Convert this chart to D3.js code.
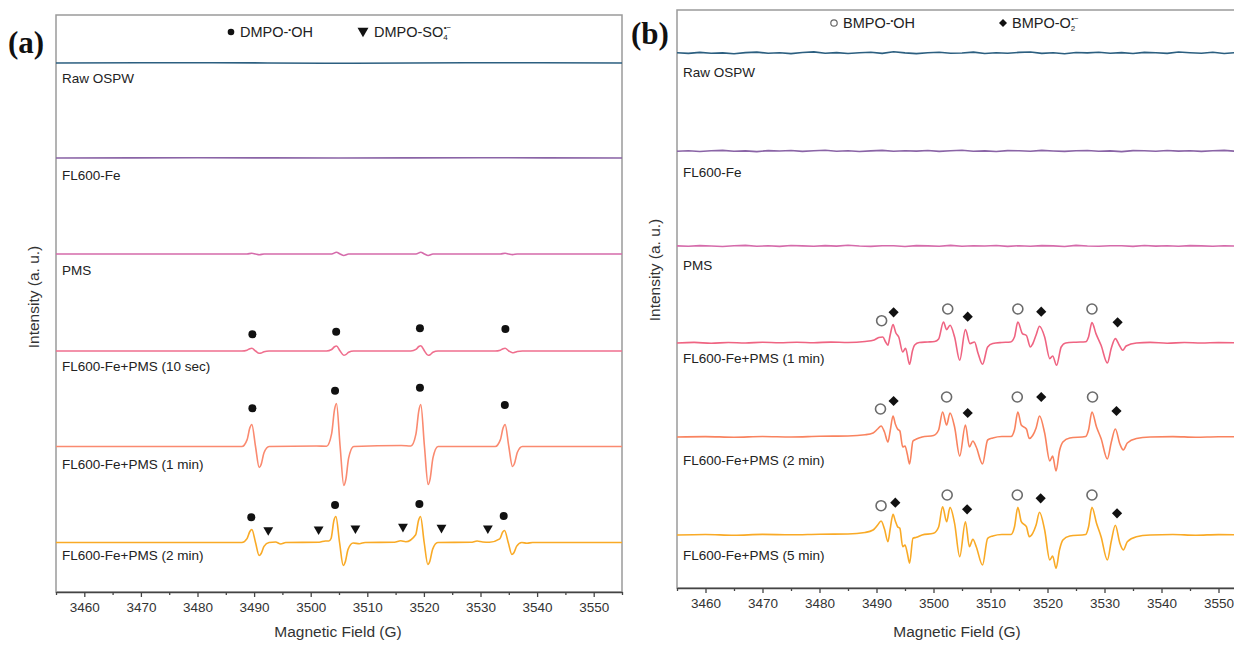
<!DOCTYPE html>
<html>
<head>
<meta charset="utf-8">
<script src="https://cdn.jsdelivr.net/npm/d3@7"></script>
<style>
  body { margin: 0; background: #fff; }
  svg { display: block; font-family: Arial, "Liberation Sans", sans-serif; }
</style>
</head>
<body>
<svg id="chart" width="1234" height="645"></svg>
<script>
// ---------------- data ----------------
const fieldDomain = [3455, 3555]
const fieldTicks = [3460, 3470, 3480, 3490, 3500, 3510, 3520, 3530, 3540, 3550]
const fieldMinor = [3455, 3465, 3475, 3485, 3495, 3505, 3515, 3525, 3535, 3545, 3555]

// panel (a) - DMPO
const labelsA = ['Raw OSPW', 'FL600-Fe', 'PMS', 'FL600-Fe+PMS (10 sec)', 'FL600-Fe+PMS (1 min)', 'FL600-Fe+PMS (2 min)']
const offsetsA = [529, 434, 338, 241, 145.5, 49.5]
const labelLevelsA = [514, 417, 322, 226, 128, 37]

const rawA = [[3455, 0], [3480, 0.3], [3505, -0.2], [3530, 0.3], [3555, 0]]
const fl600A = [[3455, 0], [3480, 0.2], [3505, 0], [3530, 0.2], [3555, 0]]
const pmsA = [
  [3455, 0], [3488.75, 0], [3489.6, 0.8], [3490.25, 0], [3490.9, -0.8], [3491.75, 0],
  [3503.7, 0], [3504.55, 1.8], [3505.2, 0], [3505.85, -1.5], [3506.7, 0],
  [3518.6, 0], [3519.45, 1.8], [3520.1, 0], [3520.75, -1.5], [3521.6, 0],
  [3533.5, 0], [3534.35, 0.8], [3535, 0], [3535.65, -0.6], [3536.5, 0], [3555, 0]
]
const sec10A = [
  [3455, 0], [3487.85, 0], [3488.75, 0.8], [3489.25, 2.3], [3489.6, 2.7], [3490.25, 0], [3490.9, -2.3], [3491.25, -2], [3491.75, -0.7], [3492.65, 0],
  [3502.8, 0], [3503.7, 1.5], [3504.2, 4.2], [3504.55, 5], [3505.2, 0], [3505.85, -4.2], [3506.2, -3.6], [3506.7, -1.3], [3507.6, 0],
  [3517.7, 0], [3518.6, 1.6], [3519.1, 4.5], [3519.45, 5.3], [3520.1, 0], [3520.75, -4.3], [3521.1, -3.7], [3521.6, -1.3], [3522.5, 0],
  [3532.6, 0], [3533.5, 0.8], [3534.0, 2.3], [3534.35, 2.7], [3535.0, 0], [3535.65, -1.7], [3536.0, -1.4], [3536.5, -0.5], [3537.4, 0], [3555, 0]
]
const min1A = [
  [3455, 0], [3487.85, 0], [3488.75, 6.6], [3489.25, 18.7], [3489.6, 22], [3490.25, 0], [3490.9, -21], [3491.25, -17.9], [3491.75, -6.3], [3492.65, 0],
  [3501, 0.5], [3502.8, 0.3], [3503.7, 12.9], [3504.2, 36.6], [3504.55, 43], [3505.2, 0], [3505.85, -39], [3506.2, -33.2], [3506.7, -11.7], [3507.6, 0],
  [3516, 1], [3517.7, 0.5], [3518.6, 12.6], [3519.1, 35.7], [3519.45, 42], [3520.1, 0], [3520.75, -38], [3521.1, -32.3], [3521.6, -11.4], [3522.5, 0],
  [3532.6, 0], [3533.5, 6.6], [3534.0, 18.7], [3534.35, 22], [3535.0, 0], [3535.65, -20], [3536.0, -17], [3536.5, -6], [3537.4, 0], [3555, 0]
]
const min2A = [
  [3455, 0], [3487.85, 0], [3488.75, 3.9], [3489.25, 11], [3489.6, 13], [3490.25, 0], [3490.9, -13], [3491.25, -11], [3491.75, -3.9], [3492.65, 0],
  [3493.8, 0.5], [3494.7, -1.5], [3495.6, 0],
  [3501.5, 0.3], [3502.6, 1.5], [3503.2, 1.5], [3503.6, 4], [3504.1, 22], [3504.45, 26], [3505.1, 0], [3505.75, -23], [3506.1, -19.6], [3506.6, -6.9], [3507.5, -0.5], [3508.6, -1.2], [3509.6, 0],
  [3514.8, 0.3], [3515.9, 1.7], [3516.8, 0.8], [3518.55, 7.8], [3519.05, 22], [3519.4, 26], [3520.05, 0], [3520.7, -22], [3521.05, -18.7], [3521.55, -6.6], [3522.45, 0],
  [3528.3, 0.2], [3529.4, 1.5], [3530.4, 0.5], [3531.6, 0.3], [3533.4, 3.6], [3533.9, 10.2], [3534.25, 12], [3534.9, 0], [3535.55, -12], [3535.9, -10.2], [3536.4, -3.6], [3537.3, 0], [3538.2, -0.8], [3539.2, 0], [3555, 0]
]
const spectraA = [rawA, fl600A, pmsA, sec10A, min1A, min2A]

// DMPO-OH (dots) and DMPO-SO4 (triangles) markers, [field, intensity]
const dotsA = [
  [3489.7, 257.7], [3504.5, 260.3], [3519.3, 263.7], [3534.4, 263],
  [3489.7, 183.7], [3504.3, 201.3], [3519.3, 204.3], [3534.3, 187],
  [3489.5, 74.7], [3504.3, 87], [3519.2, 88], [3534.1, 76]
]
const trianglesA = [[3492.5, 62], [3501.4, 62.7], [3507.9, 63.7], [3516.3, 65.3], [3523.1, 64.3], [3531.3, 63.7]]

// panel (b) - BMPO
const labelsB = ['Raw OSPW', 'FL600-Fe', 'PMS', 'FL600-Fe+PMS (1 min)', 'FL600-Fe+PMS (2 min)', 'FL600-Fe+PMS (5 min)']
const offsetsB = [535, 437, 342, 245, 151, 53]
const labelLevelsB = [516, 416, 323, 230, 128, 33]

// baseline noise, one value every 2 G from 3455 G
const rawB = [0.3, -0.4, 0.6, -0.2, 0.1, -0.8, 0.4, 0.9, -0.3, 0.2, -0.6, 0.5, 1.1, -0.2, 0.4, -0.5, 0.2, 0.8, -0.4, 1.3, 0.1, -0.6, 0.3, 0.7, -0.3, 0.0, 0.9, -0.5, 0.2, -0.2, 0.6, 1.0, -0.4, 0.3, -0.7, 0.5, 0.1, 0.8, -0.3, 0.4, -0.5, 0.6, 0.2, -0.4, 1.0, 0.3, -0.2, 0.7, -0.5, 0.4, 0.1]
const fl600B = [-0.2, 0.3, -0.5, 0.2, 0.6, -0.3, 0.1, -0.6, 0.4, 0.0, 0.5, -0.4, 0.2, 0.7, -0.2, 0.3, -0.5, 0.1, 0.6, -0.3, 0.2, -0.1, 0.5, -0.4, 0.3, 0.8, -0.2, 0.1, -0.5, 0.4, 0.2, -0.3, 0.6, 0.0, -0.4, 0.3, 0.5, -0.2, 0.1, -0.6, 0.4, 0.2, -0.3, 0.5, -0.1, 0.3, -0.4, 0.2, 0.6, -0.2, 0.1]
const pmsB = [0.1, -0.3, 0.4, 0.0, -0.5, 0.3, 0.6, -0.2, 0.2, -0.4, 0.5, 0.1, -0.3, 0.4, -0.1, 0.7, 0.0, -0.4, 0.3, 0.2, -0.5, 0.4, 0.1, -0.2, 0.6, -0.3, 0.2, 0.0, 0.5, -0.4, 0.3, -0.2, 0.4, 0.1, -0.5, 0.6, 0.0, -0.3, 0.3, 0.2, -0.4, 0.5, -0.1, 0.2, -0.3, 0.4, 0.1, -0.2, 0.3, 0.0, 0.2]
const min1B = [
  [3455, 0], [3458, 0.6], [3461, -0.3], [3464, 0.5], [3467, 0], [3470, 0.7], [3473, 0.2], [3476, 0.8], [3479, 0.3], [3482, 0.9], [3485, 0.5], [3488, 1.5], [3489.6, 3],
  [3490.4, 5.5], [3491.1, 6], [3491.6, 1], [3492.0, -2.3], [3492.4, 8], [3492.9, 18.4], [3493.4, 10], [3493.9, 6], [3494.6, -9], [3495.1, -5.3], [3495.8, -21.3], [3496.3, -8], [3496.7, -2],
  [3497.5, 0.5], [3499, 1], [3500.2, 1.5], [3500.9, 4], [3501.75, 21], [3502.3, 13.4], [3502.9, 17.7], [3503.7, 6], [3504.6, -17.3], [3505.6, 13.4], [3506.4, -0.6], [3507.2, 1], [3507.8, -10], [3508.6, -21.3], [3509.5, -4],
  [3510.4, -0.5], [3512, 0.5], [3513.5, 1], [3514.2, 6], [3514.8, 21], [3515.6, 9.4], [3516.3, 7.5], [3517.0, -4], [3517.4, -1], [3518.0, 8], [3518.6, 16.7], [3519.5, 6], [3520.4, -15.6], [3520.9, -13], [3521.6, -22.3], [3522.4, -4],
  [3523.2, 0], [3525, 0.8], [3526.7, 1.2], [3527.2, 6], [3527.8, 20.4], [3528.5, 9.4], [3529.4, -2.3], [3530.5, -20], [3531.2, -5], [3531.9, 4.4], [3532.6, -2.3], [3533.2, -7.3], [3533.8, -3],
  [3535.6, 0], [3538, 0.6], [3541, -0.2], [3544, 0.5], [3547, 0], [3550, 0.4], [3555, 0]
]
const min2B = [
  [3455, 0], [3460, 0.4], [3465, -0.2], [3470, 0.5], [3475, 0], [3480, 0.7], [3485, 1], [3488, 2.2], [3489.4, 4],
  [3490.2, 8], [3490.8, 11], [3491.4, 5], [3492.0, -5], [3492.4, 6], [3492.9, 21], [3493.3, 13], [3493.7, 8], [3494.1, 6], [3494.6, -10], [3495.0, -9], [3495.4, -17], [3495.8, -27], [3496.4, -4], [3497.0, -2],
  [3498, 0], [3500, 1.5], [3500.9, 7], [3501.6, 25], [3502.3, 12], [3502.9, 24], [3503.7, 10], [3504.6, -19], [3505.6, 12], [3506.3, -10], [3506.9, -4], [3507.5, -10], [3508.6, -27], [3509.5, -3],
  [3510.4, -1], [3512, 0.5], [3513.6, 0.5], [3514.2, 7], [3514.8, 25], [3515.4, 12], [3516.3, 8], [3516.8, -1.5], [3517.4, 1.5], [3518.0, 9], [3518.6, 21], [3519.5, 4], [3520.4, -24], [3520.9, -19], [3521.5, -34], [3522.1, -14], [3522.7, -5],
  [3523.9, -1], [3526.7, 0.5], [3527.2, 7], [3527.8, 25], [3528.6, 10], [3529.4, -1.5], [3530.5, -22], [3531.2, -5], [3531.9, 8], [3532.7, -7], [3533.3, -13], [3534.0, -6],
  [3535.6, -1.5], [3538, 0], [3542, 0.4], [3546, -0.2], [3550, 0.3], [3555, 0]
]
const min5B = [
  [3455, 0], [3460, 0.5], [3465, -0.3], [3470, 0.6], [3475, 0.2], [3480, 0.8], [3485, 1], [3488, 2.5], [3489.4, 5],
  [3490.2, 10], [3490.8, 14], [3491.4, 6], [3492.0, -6.7], [3492.4, 6], [3492.9, 20.7], [3493.3, 14], [3493.7, 8.3], [3494.1, 6.7], [3494.6, -11.7], [3495.0, -10], [3495.4, -18], [3495.8, -28.3], [3496.4, -3.3], [3497.0, -2.3],
  [3498, 0], [3500, 1.7], [3500.9, 8], [3501.6, 28.3], [3502.3, 13.3], [3502.9, 27.7], [3503.7, 11.7], [3504.6, -21.7], [3505.6, 13.3], [3506.3, -11.7], [3506.9, -4.3], [3507.5, -11.7], [3508.6, -30], [3509.5, -3.3],
  [3510.4, -1], [3512, 0.5], [3513.6, 0.5], [3514.2, 8], [3514.8, 27.7], [3515.4, 13.3], [3516.3, 8.3], [3516.8, -1.7], [3517.4, 1.7], [3518.0, 10], [3518.6, 22.7], [3519.5, 5], [3520.4, -25], [3520.9, -21], [3521.5, -33.3], [3522.1, -15], [3522.7, -5],
  [3523.9, -1], [3526.7, 0.5], [3527.2, 8], [3527.8, 27.7], [3528.6, 11.7], [3529.4, -1.7], [3530.5, -25], [3531.2, -6], [3531.9, 9.7], [3532.7, -8.3], [3533.3, -15], [3534.0, -6.7],
  [3535.6, -1.7], [3538, 0], [3542, 0.5], [3546, -0.2], [3550, 0.4], [3555, 0]
]

// BMPO-OH (open circles) and BMPO-O2 (diamonds) markers, [field, intensity]
const circlesB = [
  [3490.9, 267.3], [3502.5, 279], [3514.8, 279], [3527.8, 279],
  [3490.7, 179], [3502.3, 191], [3514.7, 191], [3527.9, 191],
  [3490.8, 82.3], [3502.4, 93], [3514.7, 93], [3527.8, 93]
]
const diamondsB = [
  [3493.0, 275.7], [3506.0, 271.3], [3518.9, 276.3], [3532.3, 265.7],
  [3493.0, 187], [3506.0, 175], [3518.9, 191], [3532.1, 177],
  [3493.3, 85.3], [3505.9, 78.7], [3518.8, 89.7], [3532.2, 74.7]
]

// ---------------- styles ----------------
const coloursA = ['#2c5f80', '#8a64a6', '#d56bab', '#ef6f8e', '#fa8a70', '#f9aa26']
const coloursB = ['#2c5f80', '#8a64a6', '#d56bab', '#ef6482', '#f9835f', '#f9aa26']

const noiseToPairs = arr => arr.map((v, i) => [fieldDomain[0] + 2 * i, v])

const svg = d3.select('#chart')

const drawPanel = p => {
  const x = d3.scaleLinear().domain(fieldDomain).range([p.left, p.right])
  const y = d3.scaleLinear().domain([0, p.bottom - p.top]).range([p.bottom, p.top])
  const g = svg.append('g')

  g.append('clipPath').attr('id', 'clip-' + p.id)
    .append('rect')
    .attr('x', p.left).attr('y', p.top)
    .attr('width', p.right - p.left).attr('height', p.bottom - p.top)

  // frame
  g.append('rect')
    .attr('x', p.left).attr('y', p.top)
    .attr('width', p.right - p.left).attr('height', p.bottom - p.top)
    .attr('fill', 'none').attr('stroke', '#9a9a9a').attr('stroke-width', 1.5)

  // spectra
  const traces = g.append('g').attr('clip-path', `url(#clip-${p.id})`)
  p.spectra.forEach((s, i) => {
    const line = d3.line()
      .x(d => x(d[0]))
      .y(d => y(p.offsets[i] + d[1]))
      .curve(p.noisy.includes(i) ? d3.curveLinear : d3.curveMonotoneX)
    traces.append('path')
      .attr('d', line(s))
      .attr('fill', 'none')
      .attr('stroke', p.colours[i])
      .attr('stroke-width', 1.6)
      .attr('stroke-linejoin', 'round')
  })

  // trace labels
  g.selectAll('.trace-label')
    .data(p.labels)
    .join('text')
    .attr('class', 'trace-label')
    .attr('x', p.left + 6)
    .attr('y', (d, i) => y(p.labelLevels[i]))
    .attr('dy', '0.35em')
    .attr('font-size', 13.5)
    .attr('fill', '#222')
    .text(d => d)

  // x axis
  const xAxis = g.append('g')
    .attr('transform', `translate(0, ${p.bottom})`)
    .call(d3.axisBottom(x).tickValues(fieldTicks).tickFormat(d3.format('d'))
      .tickSize(5).tickSizeOuter(0).tickPadding(5))
  xAxis.select('.domain').attr('stroke', '#444').attr('stroke-width', 1.6)
  xAxis.selectAll('.tick line').attr('stroke', '#444').attr('stroke-width', 1.3)
  xAxis.selectAll('.tick text').attr('font-size', 13.5).attr('fill', '#333')
    .attr('font-family', 'Arial, "Liberation Sans", sans-serif')

  const minor = g.append('g')
    .attr('transform', `translate(0, ${p.bottom})`)
    .call(d3.axisBottom(x).tickValues(fieldMinor).tickSize(3).tickSizeOuter(0).tickFormat(''))
  minor.select('.domain').remove()
  minor.selectAll('.tick line').attr('stroke', '#444').attr('stroke-width', 1.3)

  // axis titles
  g.append('text')
    .attr('x', p.titleX)
    .attr('y', 637)
    .attr('text-anchor', 'middle')
    .attr('font-size', 15.5)
    .attr('fill', '#333')
    .text('Magnetic Field (G)')

  g.append('text')
    .attr('transform', `translate(${p.left - 17}, ${p.yTitleMid}) rotate(-90)`)
    .attr('text-anchor', 'middle')
    .attr('font-size', 15.5)
    .attr('fill', '#333')
    .text('Intensity (a. u.)')

  // panel letter
  g.append('text')
    .attr('x', p.letterX).attr('y', p.letterY)
    .attr('font-family', '"Liberation Serif", "Times New Roman", serif')
    .attr('font-weight', 'bold')
    .attr('font-size', 31)
    .attr('fill', '#111')
    .text(p.letter)

  return { g, x, y }
}

// ---------------- panel (a) ----------------
const pa = drawPanel({
  id: 'a', left: 56, right: 622, top: 15, bottom: 592,
  spectra: spectraA, offsets: offsetsA, colours: coloursA, noisy: [],
  labels: labelsA, labelLevels: labelLevelsA,
  titleX: 338, yTitleMid: 297, letter: '(a)', letterX: 8, letterY: 53
})

pa.g.selectAll('.dot')
  .data(dotsA)
  .join('circle')
  .attr('cx', d => pa.x(d[0]))
  .attr('cy', d => pa.y(d[1]))
  .attr('r', 4)
  .attr('fill', '#111')

const triangle = d3.symbol().type(d3.symbolTriangle).size(42)
pa.g.selectAll('.tri')
  .data(trianglesA)
  .join('path')
  .attr('d', triangle)
  .attr('transform', d => `translate(${pa.x(d[0])}, ${pa.y(d[1])}) rotate(180)`)
  .attr('fill', '#111')

// legend (a)
const legA = pa.g.append('g').attr('font-size', 14.5).attr('fill', '#222')
legA.append('circle').attr('cx', 231).attr('cy', 32).attr('r', 3.3).attr('fill', '#111')
const tOH = legA.append('text').attr('x', 240).attr('y', 37)
tOH.append('tspan').text('DMPO-')
tOH.append('tspan').attr('dy', -5).attr('font-size', 8).text('•')
tOH.append('tspan').attr('dy', 5).text('OH')
legA.append('path')
  .attr('d', d3.symbol().type(d3.symbolTriangle).size(52)())
  .attr('transform', 'translate(363, 31) rotate(180)')
  .attr('fill', '#111')
const tSO4 = legA.append('text').attr('x', 374).attr('y', 37)
tSO4.append('tspan').text('DMPO-SO')
tSO4.append('tspan').attr('dy', 3).attr('font-size', 8).text('4')
tSO4.append('tspan').attr('dx', -4).attr('dy', -10).attr('font-size', 8).text('•−')

// ---------------- panel (b) ----------------
const spectraB = [noiseToPairs(rawB), noiseToPairs(fl600B), noiseToPairs(pmsB), min1B, min2B, min5B]

const pb = drawPanel({
  id: 'b', left: 677, right: 1247, top: 10, bottom: 588,
  spectra: spectraB, offsets: offsetsB, colours: coloursB, noisy: [0, 1, 2],
  labels: labelsB, labelLevels: labelLevelsB,
  titleX: 957, yTitleMid: 270, letter: '(b)', letterX: 631, letterY: 44
})

pb.g.selectAll('.ocircle')
  .data(circlesB)
  .join('circle')
  .attr('cx', d => pb.x(d[0]))
  .attr('cy', d => pb.y(d[1]))
  .attr('r', 5)
  .attr('fill', '#fff')
  .attr('stroke', '#6b6b6b')
  .attr('stroke-width', 1.6)

const diamond = d3.symbol().type(d3.symbolSquare).size(52)
pb.g.selectAll('.diam')
  .data(diamondsB)
  .join('path')
  .attr('d', diamond)
  .attr('transform', d => `translate(${pb.x(d[0])}, ${pb.y(d[1])}) rotate(45)`)
  .attr('fill', '#111')

// legend (b)
const legB = pb.g.append('g').attr('font-size', 14.5).attr('fill', '#222')
legB.append('circle').attr('cx', 834).attr('cy', 23).attr('r', 3.2)
  .attr('fill', '#fff').attr('stroke', '#666').attr('stroke-width', 1.2)
const tBOH = legB.append('text').attr('x', 843).attr('y', 28)
tBOH.append('tspan').text('BMPO-')
tBOH.append('tspan').attr('dy', -5).attr('font-size', 8).text('•')
tBOH.append('tspan').attr('dy', 5).text('OH')
legB.append('path').attr('d', d3.symbol().type(d3.symbolSquare).size(32)())
  .attr('transform', 'translate(1003, 23) rotate(45)').attr('fill', '#111')
const tO2 = legB.append('text').attr('x', 1012).attr('y', 28)
tO2.append('tspan').text('BMPO-O')
tO2.append('tspan').attr('dy', 3).attr('font-size', 8).text('2')
tO2.append('tspan').attr('dx', -4).attr('dy', -10).attr('font-size', 8).text('•−')
</script>
</body>
</html>
